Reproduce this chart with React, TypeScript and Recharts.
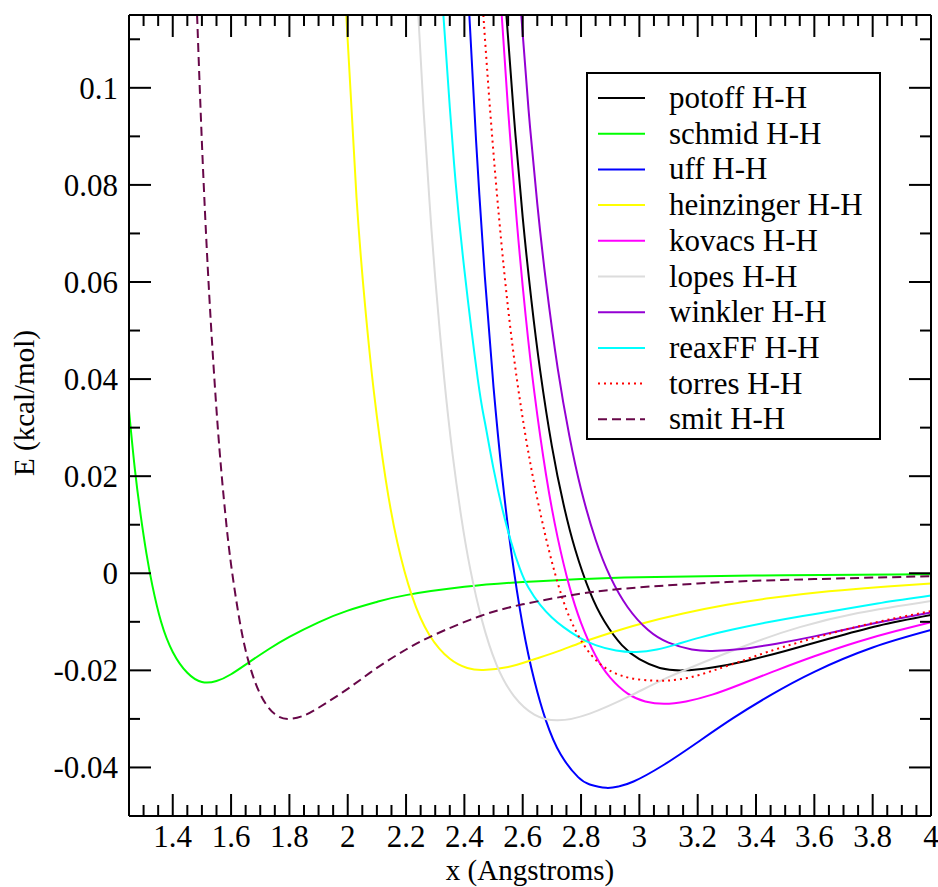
import React from "react";
import { Line, LineChart, XAxis, YAxis } from "recharts";

type Pt = { x: number; E: number };

const toPts = (rows: number[][]): Pt[] => rows.map(([x, E]) => ({ x, E }));

// values, [x (Angstroms), E (kcal/mol)]
const potoff = toPts([
  [2.544, 0.115], [2.57, 0.0941], [2.6, 0.0733], [2.63, 0.0561], [2.66, 0.0417],
  [2.7, 0.0262], [2.74, 0.0142], [2.78, 0.0049], [2.83, -0.0038], [2.88, -0.0099],
  [2.94, -0.0148], [3.0, -0.0177], [3.07, -0.0195], [3.15, -0.02], [3.25, -0.0194],
  [3.37, -0.018], [3.5, -0.016], [3.65, -0.0135], [3.82, -0.0108], [4.0, -0.0086],
]);

const schmid = toPts([
  [1.25, 0.0335], [1.27, 0.0215], [1.29, 0.012], [1.31, 0.004], [1.33, -0.0025],
  [1.36, -0.01], [1.4, -0.0162], [1.45, -0.0205], [1.5, -0.0224], [1.55, -0.0222],
  [1.6, -0.0208], [1.66, -0.0184], [1.73, -0.0156], [1.8, -0.0131], [1.9, -0.0101],
  [2.0, -0.0077], [2.1, -0.0059], [2.2, -0.0045], [2.4, -0.0028], [2.6, -0.0018],
  [2.8, -0.0012], [3.0, -0.0008], [3.5, -0.0004], [4.0, -0.0002],
]);

const uff = toPts([
  [2.417, 0.115], [2.44, 0.0892], [2.47, 0.0612], [2.5, 0.0383], [2.53, 0.0197],
  [2.56, 0.0047], [2.6, -0.0108], [2.64, -0.0221], [2.68, -0.0304], [2.73, -0.0373],
  [2.79, -0.042], [2.83, -0.0435], [2.886, -0.0442], [2.93, -0.0439], [2.98, -0.0429],
  [3.08, -0.0396], [3.2, -0.0348], [3.32, -0.0299], [3.45, -0.0251], [3.6, -0.0203],
  [3.8, -0.0153], [4.0, -0.0117],
]);

const heinzinger = toPts([
  [1.995, 0.115], [2.03, 0.0775], [2.06, 0.0548], [2.09, 0.0372], [2.13, 0.0194],
  [2.17, 0.0064], [2.22, -0.0046], [2.28, -0.0127], [2.35, -0.0176], [2.41, -0.0195],
  [2.465, -0.0199], [2.55, -0.0193], [2.63, -0.0179], [2.72, -0.0161], [2.8, -0.0143],
  [2.9, -0.0123], [3.0, -0.0105], [3.15, -0.0083], [3.3, -0.0065], [3.45, -0.0051],
  [3.65, -0.0037], [3.85, -0.0027], [4.0, -0.0021],
]);

const kovacs = toPts([
  [2.528, 0.115], [2.55, 0.0954], [2.58, 0.0723], [2.61, 0.0531], [2.64, 0.0372],
  [2.68, 0.0203], [2.72, 0.0073], [2.76, -0.0027], [2.8, -0.0102], [2.85, -0.017],
  [2.9, -0.0215], [2.96, -0.0248], [3.02, -0.0264], [3.085, -0.0269], [3.16, -0.0264],
  [3.25, -0.025], [3.35, -0.0228], [3.47, -0.02], [3.6, -0.0171], [3.75, -0.0141],
  [3.88, -0.0119], [4.0, -0.0101],
]);

const lopes = toPts([
  [2.242, 0.115], [2.26, 0.0955], [2.28, 0.0769], [2.3, 0.0608], [2.33, 0.0406],
  [2.36, 0.0243], [2.39, 0.0113], [2.42, 0.0009], [2.46, -0.0096], [2.51, -0.0188],
  [2.57, -0.0253], [2.64, -0.0291], [2.72, -0.0303], [2.83, -0.0289], [2.97, -0.0252],
  [3.1, -0.0214], [3.25, -0.0176], [3.4, -0.0141], [3.55, -0.0111], [3.75, -0.0082],
  [4.0, -0.0057],
]);

const winkler = toPts([
  [2.595, 0.115], [2.62, 0.0955], [2.65, 0.0761], [2.68, 0.0599], [2.72, 0.0422],
  [2.76, 0.0283], [2.8, 0.0173], [2.85, 0.0069], [2.9, -0.0007], [2.96, -0.007],
  [3.03, -0.0117], [3.1, -0.0143], [3.18, -0.0157], [3.25, -0.016], [3.35, -0.0156],
  [3.47, -0.0145], [3.6, -0.013], [3.75, -0.011], [3.88, -0.0094], [4.0, -0.0081],
]);

const reaxFF = toPts([
  [2.328, 0.115], [2.35, 0.096], [2.37, 0.0805], [2.4, 0.0625], [2.446, 0.04],
  [2.47, 0.0312], [2.5, 0.0215], [2.53, 0.0133], [2.56, 0.0065], [2.59, 0.001],
  [2.62, -0.003], [2.66, -0.0065], [2.7, -0.0091], [2.74, -0.0111], [2.79, -0.0131],
  [2.85, -0.0148], [2.92, -0.0159], [2.99, -0.0162], [3.06, -0.0157], [3.13, -0.0146],
  [3.21, -0.0132], [3.32, -0.0116], [3.44, -0.0101], [3.56, -0.0088], [3.67, -0.0077],
  [3.83, -0.0061], [4.0, -0.0046],
]);

const torres = toPts([
  [2.465, 0.115], [2.49, 0.094], [2.52, 0.0725], [2.55, 0.0545], [2.58, 0.04],
  [2.61, 0.0282], [2.64, 0.0183], [2.68, 0.0072], [2.72, -0.002], [2.76, -0.009],
  [2.81, -0.0148], [2.86, -0.0184], [2.91, -0.0204], [2.97, -0.0216], [3.04, -0.0221],
  [3.1, -0.0221], [3.17, -0.0215], [3.25, -0.0201], [3.34, -0.0183], [3.44, -0.0162],
  [3.56, -0.014], [3.7, -0.0117], [3.85, -0.0096], [4.0, -0.0078],
]);

const smit = toPts([
  [1.4835, 0.115], [1.5, 0.0887], [1.52, 0.063], [1.54, 0.0426], [1.56, 0.0257],
  [1.58, 0.0124], [1.6, 0.0018], [1.63, -0.01], [1.66, -0.0182], [1.7, -0.0249],
  [1.75, -0.029], [1.8, -0.03], [1.85, -0.0293], [1.9, -0.0277], [2.0, -0.0238],
  [2.1, -0.0195], [2.2, -0.0157], [2.3, -0.0126], [2.45, -0.0089], [2.6, -0.0064],
  [2.8, -0.0042], [3.0, -0.0029], [3.3, -0.0018], [3.6, -0.0012], [4.0, -0.0006],
]);

const seriesNames = [
  "potoff H-H", "schmid H-H", "uff H-H", "heinzinger H-H", "kovacs H-H",
  "lopes H-H", "winkler H-H", "reaxFF H-H", "torres H-H", "smit H-H",
];
const seriesData = [potoff, schmid, uff, heinzinger, kovacs, lopes, winkler, reaxFF, torres, smit];
const seriesColors = [
  "#000000", "#00ff00", "#0000ff", "#ffff00", "#ff00ff",
  "#dcdcdc", "#9400d3", "#00ffff", "#ff0000", "#670748",
];
const seriesDash = ["", "", "", "", "", "", "", "", "2 4", "9 5"];

const xMajor = [1.4, 1.6, 1.8, 2, 2.2, 2.4, 2.6, 2.8, 3, 3.2, 3.4, 3.6, 3.8, 4];
const xLabels = ["1.4", "1.6", "1.8", "2", "2.2", "2.4", "2.6", "2.8", "3", "3.2", "3.4", "3.6", "3.8", "4"];
const yMajor = [-0.04, -0.02, 0, 0.02, 0.04, 0.06, 0.08, 0.1];
const yLabels = ["-0.04", "-0.02", "0", "0.02", "0.04", "0.06", "0.08", "0.1"];

// minor ticks every 0.05 on x, 0.01 on y
const xTicks: number[] = [];
for (let i = 1; i <= 55; i++) xTicks.push(+(1.25 + i * 0.05).toFixed(2));
const yTicks: number[] = [];
for (let i = 1; i <= 16; i++) yTicks.push(+(-0.05 + i * 0.01).toFixed(2));

const FONT = '"Liberation Serif", "DejaVu Serif", "Times New Roman", Times, serif';
const textStyle: React.CSSProperties = { fontFamily: FONT };
const MAJOR = 22;
const MINOR = 11;

const majorIndex = (v: number, majors: number[]) => majors.findIndex((m) => Math.abs(m - v) < 1e-6);

function XTick(props: any, side: "bottom" | "top") {
  const { x, y, payload } = props;
  const idx = majorIndex(payload.value, xMajor);
  const len = idx >= 0 ? MAJOR : MINOR;
  const dir = side === "bottom" ? -1 : 1;
  return (
    <g>
      <line x1={x} x2={x} y1={y} y2={y + dir * len} stroke="#000" strokeWidth={2} />
      {side === "bottom" && idx >= 0 && (
        <text x={x} y={y + 31} textAnchor="middle" style={textStyle} fontSize={31} fill="#000">
          {xLabels[idx]}
        </text>
      )}
    </g>
  );
}

function YTick(props: any, side: "left" | "right") {
  const { x, y, payload } = props;
  const idx = majorIndex(payload.value, yMajor);
  const len = idx >= 0 ? MAJOR : MINOR;
  const dir = side === "left" ? 1 : -1;
  return (
    <g>
      <line x1={x} x2={x + dir * len} y1={y} y2={y} stroke="#000" strokeWidth={2} />
      {side === "left" && idx >= 0 && (
        <text x={x - 11} y={y + 11} textAnchor="end" style={textStyle} fontSize={31} fill="#000">
          {yLabels[idx]}
        </text>
      )}
    </g>
  );
}

const frame = { stroke: "#000", strokeWidth: 2 };

function Legend() {
  const rowGap = 35.7;
  return (
    <div
      style={{
        position: "absolute",
        left: 586,
        top: 72,
        width: 295,
        height: 368,
        boxSizing: "border-box",
        border: "2px solid #000",
        background: "#fff",
      }}
    >
      <svg width={291} height={364} style={{ position: "absolute", left: 0, top: 0 }}>
        {seriesNames.map((name, i) => {
          const ly = 24 + i * rowGap;
          return (
            <g key={name}>
              <line
                x1={10}
                x2={57}
                y1={ly}
                y2={ly}
                stroke={seriesColors[i]}
                strokeWidth={2}
                strokeDasharray={seriesDash[i] || undefined}
              />
              <text x={81} y={ly + 10} style={textStyle} fontSize={31} fill="#000">
                {name}
              </text>
            </g>
          );
        })}
      </svg>
    </div>
  );
}

export default function App() {
  return (
    <div style={{ position: "absolute", left: 0, top: 0, width: 938, height: 887, background: "#fff" }}>
      <LineChart width={938} height={887} margin={{ top: 0, right: 0, bottom: 0, left: 0 }}>
        <XAxis
          xAxisId="b"
          type="number"
          dataKey="x"
          orientation="bottom"
          domain={[1.25, 4]}
          allowDataOverflow
          ticks={xTicks}
          interval={0}
          height={71}
          tickSize={0}
          tickMargin={0}
          tickLine={false}
          axisLine={frame}
          tick={(p: any) => XTick(p, "bottom")}
          label={() => (
            <text x={530} y={880} textAnchor="middle" style={textStyle} fontSize={29} fill="#000">
              x (Angstroms)
            </text>
          )}
        />
        <XAxis
          xAxisId="t"
          type="number"
          dataKey="x"
          orientation="top"
          domain={[1.25, 4]}
          allowDataOverflow
          ticks={xTicks}
          interval={0}
          height={15}
          tickSize={0}
          tickMargin={0}
          tickLine={false}
          axisLine={frame}
          tick={(p: any) => XTick(p, "top")}
        />
        <YAxis
          yAxisId="l"
          type="number"
          orientation="left"
          domain={[-0.05, 0.115]}
          allowDataOverflow
          ticks={yTicks}
          interval={0}
          width={129}
          tickSize={0}
          tickMargin={0}
          tickLine={false}
          axisLine={frame}
          tick={(p: any) => YTick(p, "left")}
          label={() => (
            <text
              x={34}
              y={403}
              transform="rotate(-90, 34, 403)"
              textAnchor="middle"
              style={textStyle}
              fontSize={29}
              fill="#000"
            >
              E (kcal/mol)
            </text>
          )}
        />
        <YAxis
          yAxisId="r"
          type="number"
          orientation="right"
          domain={[-0.05, 0.115]}
          allowDataOverflow
          ticks={yTicks}
          interval={0}
          width={7}
          tickSize={0}
          tickMargin={0}
          tickLine={false}
          axisLine={frame}
          tick={(p: any) => YTick(p, "right")}
        />
        {seriesData.map((d, i) => (
          <Line
            key={seriesNames[i]}
            name={seriesNames[i]}
            data={d}
            xAxisId="b"
            yAxisId="l"
            dataKey="E"
            type="natural"
            stroke={seriesColors[i]}
            strokeWidth={2}
            strokeDasharray={seriesDash[i] || undefined}
            dot={false}
            activeDot={false}
            isAnimationActive={false}
          />
        ))}
      </LineChart>
      <Legend />
    </div>
  );
}
